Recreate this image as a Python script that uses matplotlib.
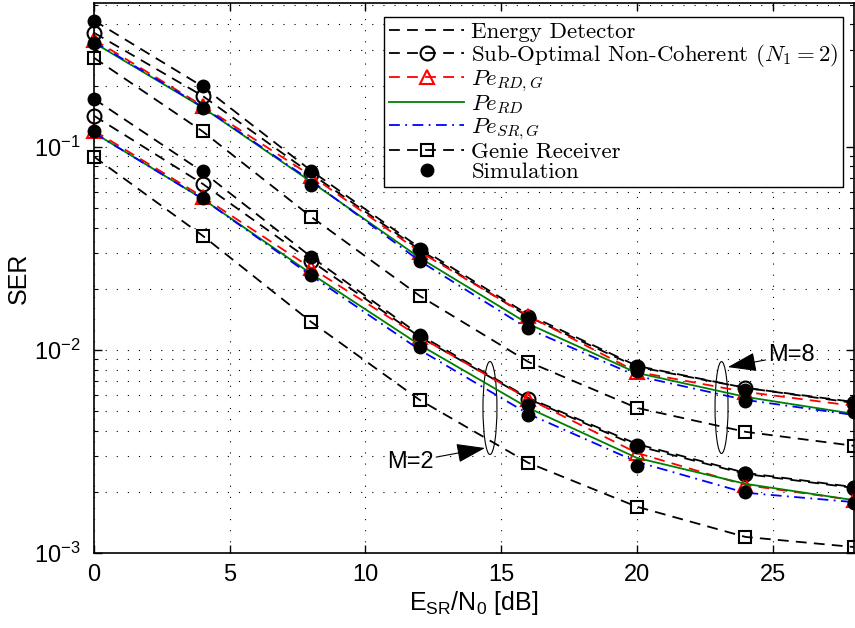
import matplotlib
matplotlib.use("Agg")
import matplotlib.pyplot as plt
import numpy as np
from matplotlib.patches import Ellipse
from matplotlib.font_manager import FontProperties

plt.rcParams['font.family'] = 'Liberation Sans'
plt.rcParams['mathtext.fontset'] = 'custom'
plt.rcParams['mathtext.rm'] = 'Liberation Sans'
plt.rcParams['mathtext.it'] = 'Liberation Sans:italic'
plt.rcParams['mathtext.sf'] = 'Liberation Sans'

# E_SR/N0 [dB]
snr = [0, 4, 8, 12, 16, 20, 24, 28]

# M = 8
ed_8 = [0.418, 0.198, 0.0762, 0.0318, 0.0149, 0.00834, 0.0065, 0.00554]
sub_8 = [0.364, 0.178, 0.0736, 0.0311, 0.01455, 0.00825, 0.0065, 0.00548]
rdg_8 = [0.337, 0.159, 0.0720, 0.0304, 0.0147, 0.00779, 0.00621, 0.0053]
rd_8 = [0.325, 0.156, 0.0672, 0.0284, 0.01343, 0.0077, 0.00587, 0.00484]
srg_8 = [0.329, 0.157, 0.0680, 0.0274, 0.01269, 0.00744, 0.00567, 0.00478]
genie_8 = [0.274, 0.119, 0.0452, 0.01845, 0.00873, 0.00518, 0.00395, 0.00337]
sim_a_8 = [0.418, 0.198, 0.0762, 0.0311, 0.01438, 0.00825, 0.00635, 0.00542]
sim_b_8 = [0.325, 0.156, 0.0650, 0.0274, 0.01284, 0.00788, 0.00561, 0.00495]

# M = 2
ed_2 = [0.172, 0.0753, 0.0287, 0.01186, 0.0058, 0.00344, 0.00248, 0.00211]
sub_2 = [0.142, 0.0657, 0.0274, 0.01159, 0.00574, 0.00337, 0.00245, 0.00209]
rdg_2 = [0.120, 0.0567, 0.0253, 0.01159, 0.00574, 0.00311, 0.00216, 0.00182]
rd_2 = [0.117, 0.0554, 0.0237, 0.01058, 0.00518, 0.00294, 0.00219, 0.00182]
srg_2 = [0.117, 0.0554, 0.0232, 0.0100, 0.00484, 0.00281, 0.00198, 0.00178]
genie_2 = [0.0893, 0.0365, 0.01373, 0.00567, 0.00278, 0.00169, 0.0012, 0.00107]
sim_a_2 = [0.172, 0.0762, 0.0287, 0.01186, 0.00536, 0.00337, 0.00248, 0.00211]
sim_b_2 = [0.120, 0.0561, 0.0234, 0.01034, 0.00478, 0.00268, 0.0020, 0.00176]

labels = ['Energy Detector', 'Sub-Optimal Non-Coherent ($N_1 = 2$)', '$Pe_{RD,G}$',
          '$Pe_{RD}$', '$Pe_{SR,G}$', 'Genie Receiver', 'Simulation']

fig = plt.figure(figsize=(8.55, 6.28), dpi=100)
ax = fig.add_axes([94/855, 75/628, 760/855, 550/628])

lw = 1.3
handles = []
for ed, sub, rdg, rd, srg, genie, sa, sb in [
        (ed_8, sub_8, rdg_8, rd_8, srg_8, genie_8, sim_a_8, sim_b_8),
        (ed_2, sub_2, rdg_2, rd_2, srg_2, genie_2, sim_a_2, sim_b_2)]:
    h1, = ax.semilogy(snr, ed, color='k', lw=lw, dashes=(6, 4))
    h2, = ax.semilogy(snr, sub, color='k', lw=lw, dashes=(6, 4), marker='o', ms=10,
                      mfc='none', mew=1.5, clip_on=False)
    h3, = ax.semilogy(snr, rdg, color='r', lw=lw, dashes=(6, 4), marker='^', ms=10,
                      mfc='none', mew=1.5, clip_on=False)
    h4, = ax.semilogy(snr, rd, color='#008000', lw=lw)
    h5, = ax.semilogy(snr, srg, color='b', lw=lw, dashes=(6, 3, 1, 3))
    h6, = ax.semilogy(snr, genie, color='k', lw=lw, dashes=(6, 4), marker='s', ms=9,
                      mfc='none', mew=1.5, clip_on=False)
    h7, = ax.semilogy(snr, sa, ls='none', marker='o', ms=9, color='k', clip_on=False)
    ax.semilogy(snr, sb, ls='none', marker='o', ms=9, color='k', clip_on=False)
    if not handles:
        handles = [h1, h2, h3, h4, h5, h6, h7]

ax.set_xlim(0, 28)
ax.set_ylim(1e-3, 0.51)
ax.set_xticks([0, 5, 10, 15, 20, 25])
ax.tick_params(which='both', direction='in', top=True, right=True, labelsize=17)
ax.tick_params(which='major', length=6, width=1)
ax.tick_params(axis='x', which='major', pad=8)
ax.tick_params(axis='y', which='major', pad=10)
ax.tick_params(which='minor', length=3, width=0.8)
ax.grid(True, which='major', ls=(0, (1, 9)), color='k', lw=0.8)
ax.grid(True, which='minor', axis='y', ls=(0, (1, 9)), color='k', lw=0.8)
for s in ax.spines.values():
    s.set_linewidth(1.2)

ax.set_xlabel(r'E$_{\rm SR}$/N$_0$ [dB]', fontsize=18, labelpad=2)
ax.set_ylabel('SER', fontsize=18, labelpad=2)

leg_font = FontProperties(family='cmr10', size=16.5, math_fontfamily='cm')
leg = ax.legend(handles, labels, loc='upper right', bbox_to_anchor=(0.9855, 0.9745),
                borderaxespad=0, prop=leg_font, handlelength=3.3, handletextpad=0.3,
                labelspacing=0.0, fancybox=False, framealpha=1, edgecolor='k',
                borderpad=0.2)
leg.get_frame().set_linewidth(1.0)

# ellipses and annotations
ax.add_patch(Ellipse((0.521, 0.2636), 0.0184, 0.169, transform=ax.transAxes,
                     fill=False, lw=0.8, ec='k'))
ax.add_patch(Ellipse((0.8257, 0.2645), 0.0171, 0.167, transform=ax.transAxes,
                     fill=False, lw=0.8, ec='k'))
arrow = dict(arrowstyle='-|>,head_length=0.9,head_width=0.3', color='k', lw=0.8,
             mutation_scale=20, shrinkA=0, shrinkB=0)
ax.annotate('M=2', xy=(0.5145, 0.1909), xytext=(0.4158, 0.1655), xycoords='axes fraction',
            textcoords='axes fraction', ha='center', va='center', fontsize=17, arrowprops=arrow)
ax.annotate('M=8', xy=(0.834, 0.338), xytext=(0.918, 0.36), xycoords='axes fraction',
            textcoords='axes fraction', ha='center', va='center', fontsize=17, arrowprops=arrow)

fig.savefig('out.png', dpi=100)
